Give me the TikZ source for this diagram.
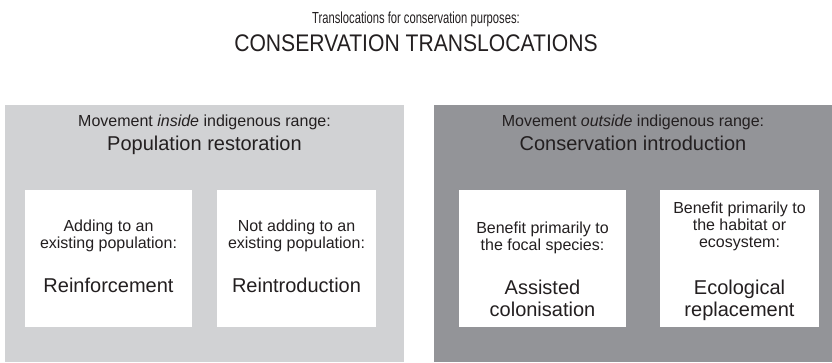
\documentclass[tikz,border=0pt]{standalone}
\usepackage{fontspec}
\setmainfont{Liberation Sans}
\usepackage{graphicx}
\definecolor{ink}{HTML}{231F20}
\definecolor{inband}{HTML}{D1D2D4}
\definecolor{outband}{HTML}{939498}
\begin{document}
\begin{tikzpicture}[x=1pt,y=-1pt,
  panel/.style={draw=none, inner sep=0pt, outer sep=0pt, anchor=north west,
    minimum height=257pt},
  card/.style={fill=white, draw=none, inner sep=0pt, outer sep=0pt,
    anchor=north west, minimum height=137pt},
  txt/.style={inner sep=0pt, anchor=base, text=ink},
  small/.style={txt, font=\fontsize{16pt}{19pt}\selectfont},
  big/.style={txt, font=\fontsize{20pt}{24pt}\selectfont},
  heading/.style={txt, font=\fontsize{16pt}{19pt}\selectfont},
  subheading/.style={txt, font=\fontsize{20pt}{24pt}\selectfont},
]
\useasboundingbox (0,0) rectangle (832,362);

% title, set in a narrowed sans
\node[txt, font=\fontsize{16pt}{19pt}\selectfont] (title1) at (416,23)
  {\scalebox{0.7}[1]{Translocations for conservation purposes:}};
\node[txt, font=\fontsize{24pt}{28pt}\selectfont] (title2) at (416,51)
  {\scalebox{0.88}[1]{CONSERVATION TRANSLOCATIONS}};

% the two bands
\node[panel, fill=inband, minimum width=399pt] (inside) at (5,105) {};
\node[panel, fill=outband, minimum width=398pt] (outside) at (434,105) {};

\node[heading] (inhead) at (204.5,126) {Movement \textit{inside} indigenous range:};
\node[subheading] (insub) at (204.5,150) {Population restoration};
\node[heading] (outhead) at (633,126) {Movement \textit{outside} indigenous range:};
\node[subheading] (outsub) at (633,150) {Conservation introduction};

% white cards
\node[card, minimum width=167pt] (reinf) at (25,190) {};
\node[card, minimum width=159pt] (reintro) at (217,190) {};
\node[card, minimum width=167pt] (assist) at (459,190) {};
\node[card, minimum width=159pt] (ecorep) at (660,190) {};

% card: reinforcement
\node[small] (reinfA) at (108.5,231) {Adding to an};
\node[small] (reinfB) at (108.5,248) {existing population:};
\node[big] (reinfC) at (108.5,292) {Reinforcement};

% card: reintroduction
\node[small] (reintroA) at (296.5,231) {Not adding to an};
\node[small] (reintroB) at (296.5,248) {existing population:};
\node[big] (reintroC) at (296.5,292) {Reintroduction};

% card: assisted colonisation
\node[small] (assistA) at (542.5,233) {Benefit primarily to};
\node[small] (assistB) at (542.5,250) {the focal species:};
\node[big] (assistC) at (542.5,294) {Assisted};
\node[big] (assistD) at (542.5,316) {colonisation};

% card: ecological replacement
\node[small] (ecorepA) at (739.5,213) {Benefit primarily to};
\node[small] (ecorepB) at (739.5,230) {the habitat or};
\node[small] (ecorepC) at (739.5,247) {ecosystem:};
\node[big] (ecorepD) at (739.5,294) {Ecological};
\node[big] (ecorepE) at (739.5,316) {replacement};
\end{tikzpicture}
\end{document}
